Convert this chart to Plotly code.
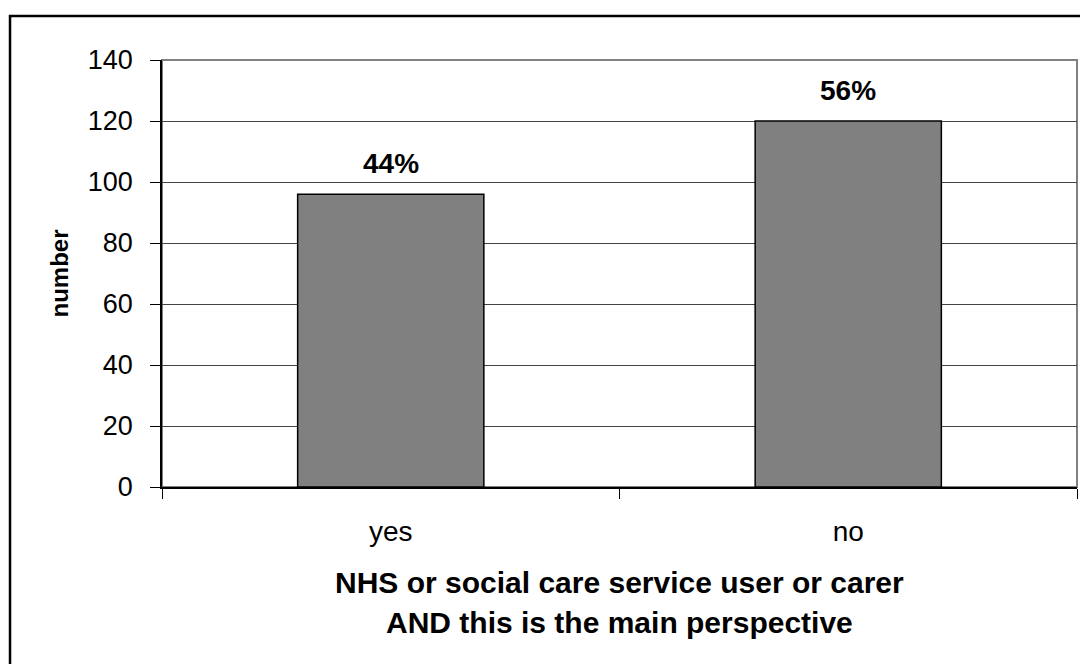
import plotly.graph_objects as go

# Survey responses: NHS or social care service user/carer as main perspective
categories = ["yes", "no"]
counts = [96, 120]
y_ticks = [0, 20, 40, 60, 80, 100, 120, 140]

total = sum(counts)
percent_labels = [f"{round(100 * c / total)}%" for c in counts]

FONT = "Arial, Liberation Sans, sans-serif"

fig = go.Figure()
fig.add_trace(go.Bar(
    x=categories,
    y=counts,
    marker=dict(color="#808080", line=dict(color="#000000", width=1.5)),
    hoverinfo="skip",
))

# Percent share above each bar
for cat, val, lab in zip(categories, counts, percent_labels):
    fig.add_annotation(
        x=cat, y=val, xref="x", yref="y", text=f"<b>{lab}</b>",
        showarrow=False, yanchor="bottom", yshift=13,
        font=dict(family=FONT, size=28, color="#000000"),
    )

# Axis titles
fig.add_annotation(
    x=-0.1115, y=0.5, xref="paper", yref="paper", text="<b>number</b>",
    textangle=-90, showarrow=False, xanchor="center", yanchor="middle",
    font=dict(family=FONT, size=24, color="#000000"),
)
fig.add_annotation(
    x=0.5, y=-0.2225, xref="paper", yref="paper",
    text="<b>NHS or social care service user or carer</b>",
    showarrow=False, xanchor="center", yanchor="middle",
    font=dict(family=FONT, size=30, color="#000000"),
)
fig.add_annotation(
    x=0.5, y=-0.3162, xref="paper", yref="paper",
    text="<b>AND this is the main perspective</b>",
    showarrow=False, xanchor="center", yanchor="middle",
    font=dict(family=FONT, size=30, color="#000000"),
)

# Plot-area border (grey) and outer chart frame (black)
fig.add_shape(type="rect", xref="paper", yref="paper", x0=0, x1=1, y0=0, y1=1,
              line=dict(color="#808080", width=2), layer="below")
fig.add_shape(type="rect", xref="paper", yref="paper",
              x0=-0.1661, x1=1.2, y0=-0.6, y1=1.103,
              line=dict(color="#000000", width=2.5), layer="below")

fig.update_layout(
    width=1080, height=664,
    margin=dict(l=162, r=3, t=60, b=177),
    paper_bgcolor="#ffffff", plot_bgcolor="#ffffff",
    bargap=0.593,
    showlegend=False,
    font=dict(family=FONT, color="#000000"),
)
fig.update_xaxes(
    type="category", showline=True, linecolor="#000000", linewidth=1.5,
    ticks="outside", tickson="boundaries", ticklen=10, tickwidth=1.2,
    tickcolor="#000000", showgrid=False, zeroline=False,
    tickfont=dict(family=FONT, size=28, color="#000000"),
    ticklabelstandoff=19,
)
fig.update_yaxes(
    range=[0, 140], tickvals=y_ticks, showline=True, linecolor="#000000",
    linewidth=1.5, ticks="outside", ticklen=10, tickwidth=1.2,
    tickcolor="#000000", showgrid=True, gridcolor="#444444", gridwidth=1,
    zeroline=False, tickfont=dict(family=FONT, size=27, color="#000000"),
    ticklabelstandoff=12,
)

fig.write_html("out.html")
